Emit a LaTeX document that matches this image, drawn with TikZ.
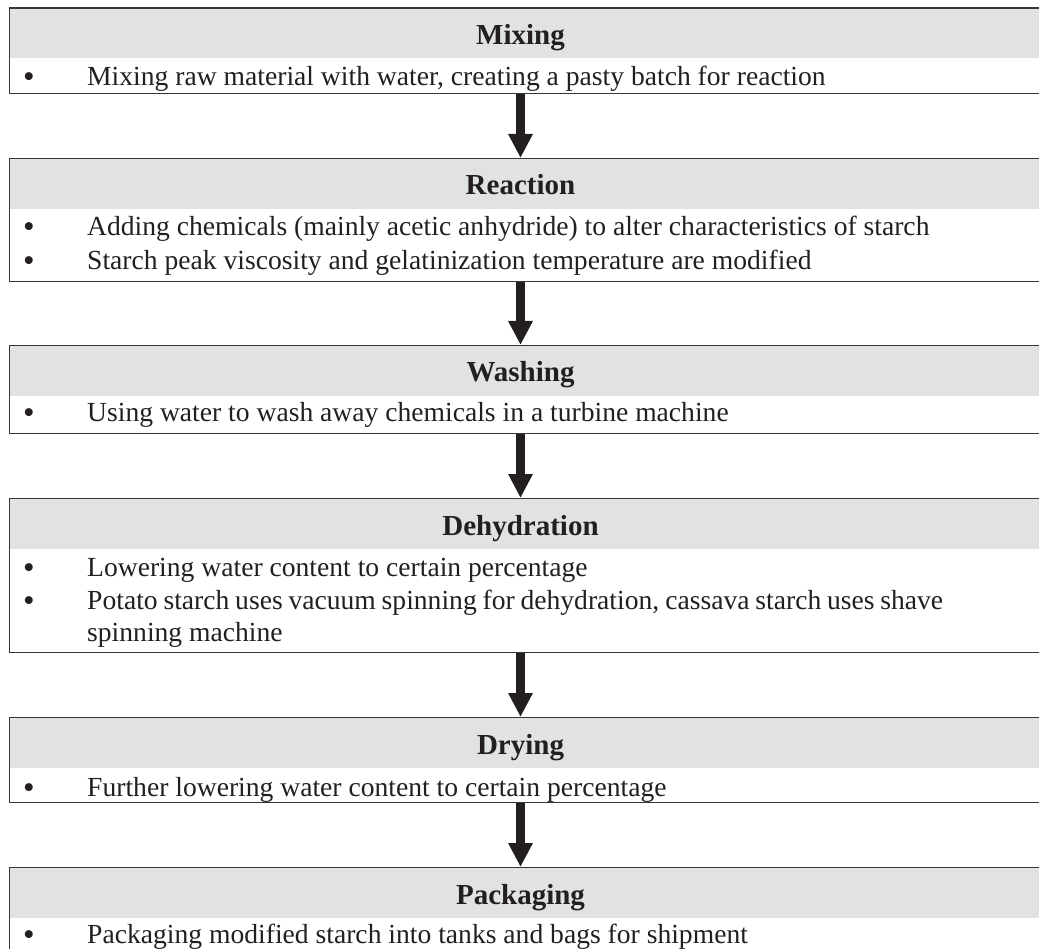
\documentclass[tikz,border=0pt]{standalone}
\usepackage{fontspec}
\setmainfont{Liberation Serif}
\usetikzlibrary{arrows.meta,backgrounds}
\definecolor{hdrgray}{RGB}{225,226,228}
\definecolor{ink}{RGB}{35,31,32}
\begin{document}
\begin{tikzpicture}[x=1pt,y=-1pt,
  frame/.style={draw=ink!90, line width=1.3pt, anchor=north west, inner sep=0pt, minimum width=1060pt},
  title/.style={font=\fontsize{29}{33}\selectfont\bfseries, text=ink, anchor=base, inner sep=0pt},
  bul/.style={font=\fontsize{33}{33}\selectfont, text=ink, anchor=base, inner sep=0pt, yshift=-2pt, text depth=0pt, text height=14pt},
  item/.style={font=\fontsize{27.6}{32.5}\selectfont, text=ink, anchor=base west, inner sep=0pt, align=left},
  flow/.style={draw=ink, line width=9pt, -{Triangle[width=23pt,length=24pt]}}
]
\useasboundingbox (0,0) rectangle (1039,949);
\clip (0,0) rectangle (1039,949);

% boxes
\node[frame, minimum height=85.5pt] (box1) at (8.5,7.5) {};
\node[frame, minimum height=123pt] (box2) at (8.5,158) {};
\node[frame, minimum height=88pt] (box3) at (8.5,345) {};
\node[frame, minimum height=154pt] (box4) at (8.5,498) {};
\node[frame, minimum height=85pt] (box5) at (8.5,717) {};
\node[frame, minimum height=110pt] (box6) at (8.5,867) {};

\begin{scope}[on background layer]
  \foreach \b in {box1,box2,box3,box4,box5,box6}
    \fill[hdrgray] (\b.north west) rectangle ([yshift=-51pt]\b.north east);
\end{scope}

% titles
\node[title] (h1) at (520.5,44.5) {Mixing};
\node[title] (h2) at (520.5,195) {Reaction};
\node[title] (h3) at (520.5,382) {Washing};
\node[title] (h4) at (520.5,535) {Dehydration};
\node[title] (h5) at (520.5,754) {Drying};
\node[title] (h6) at (520.5,904) {Packaging};

% bullets and items
\node[bul] (b1a) at (29,86) {\textbullet};
\node[item] (t1a) at (87,86) {Mixing raw material with water, creating a pasty batch for reaction};

\node[bul] (b2a) at (29,236) {\textbullet};
\node[item] (t2a) at (87,236) {Adding chemicals (mainly acetic anhydride) to alter characteristics of starch};
\node[bul] (b2b) at (29,270) {\textbullet};
\node[item] (t2b) at (87,270) {Starch peak viscosity and gelatinization temperature are modified};

\node[bul] (b3a) at (29,422) {\textbullet};
\node[item] (t3a) at (87,422) {Using water to wash away chemicals in a turbine machine};

\node[bul] (b4a) at (29,576) {\textbullet};
\node[item] (t4a) at (87,576) {Lowering water content to certain percentage};
\node[bul] (b4b) at (29,609) {\textbullet};
\node[item] (t4b) at (87,641.5) {\makebox[856pt][s]{Potato starch uses vacuum spinning for dehydration, cassava starch uses shave}\\spinning machine};

\node[bul] (b5a) at (29,796) {\textbullet};
\node[item] (t5a) at (87,796) {Further lowering water content to certain percentage};

\node[bul] (b6a) at (29,943) {\textbullet};
\node[item] (t6a) at (87,943) {Packaging modified starch into tanks and bags for shipment};

% arrows
\draw[flow] (box1.south -| h1) -- (box2.north -| h1);
\draw[flow] (box2.south -| h2) -- (box3.north -| h2);
\draw[flow] (box3.south -| h3) -- (box4.north -| h3);
\draw[flow] (box4.south -| h4) -- (box5.north -| h4);
\draw[flow] (box5.south -| h5) -- (box6.north -| h5);
\end{tikzpicture}
\end{document}
